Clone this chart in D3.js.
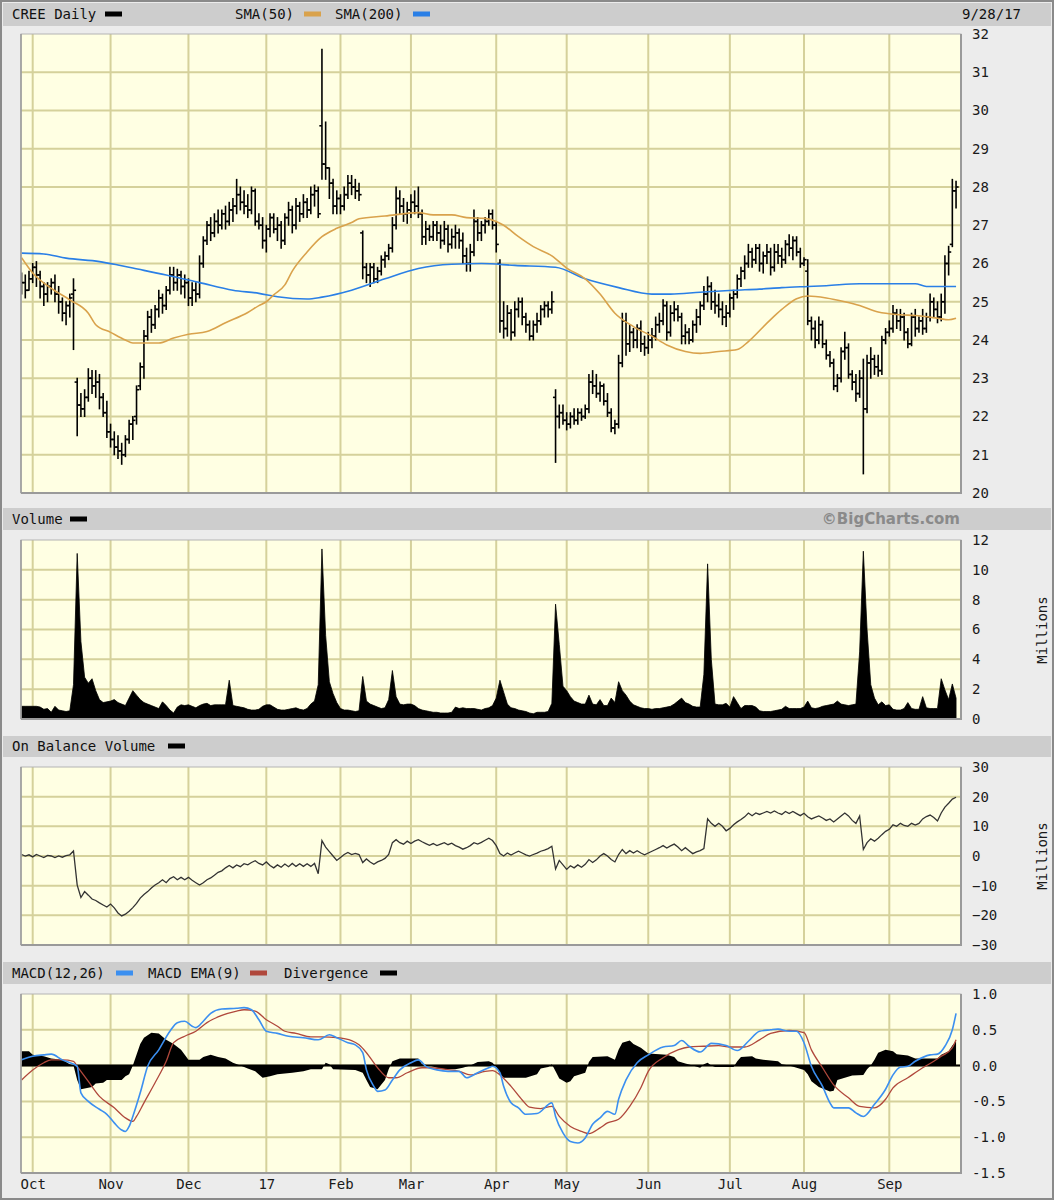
<!DOCTYPE html>
<html><head><meta charset="utf-8">
<script src="https://cdn.jsdelivr.net/npm/d3@7/dist/d3.min.js"></script>
<style>body{margin:0;background:#ececec}svg{display:block}</style>
</head><body><svg id="c" width="1054" height="1200"></svg>
<script>
// ---------- DATA ----------
const monthLabels = ["Oct","Nov","Dec","17","Feb","Mar","Apr","May","Jun","Jul","Aug","Sep"];
const monthStart  = [0,21,42,63,83,102,125,144,166,188,208,231]; // trading-day index of 1st day of month
const firstIndex = -3; // first bar = 9/28/16
const priceTicks = [20,21,22,23,24,25,26,27,28,29,30,31,32];
const volTicks = [0,2,4,6,8,10,12];
const obvTicks = [-30,-20,-10,0,10,20,30];
const macdTicks = [-1.5,-1.0,-0.5,0,0.5,1.0];

const opens = [
25.4,25.5,25.3,25.6,25.9,25.7,25.4,25.2,25.4,25.5,
25.2,25.0,24.7,24.9,25.2,22.9,22.3,22.2,22.5,23.0,
22.8,22.9,22.5,22.1,21.6,21.4,21.2,21.1,21.0,21.4,
21.8,22.0,22.8,23.3,24.1,24.6,24.4,24.8,25.1,24.9,
25.3,25.7,25.5,25.7,25.4,25.5,25.1,25.3,25.2,26.0,
26.6,27.0,26.8,27.1,27.0,27.3,27.1,27.4,27.5,27.8,
27.6,27.5,27.4,27.9,27.1,27.0,26.6,26.9,27.2,26.9,
27.0,26.6,27.2,27.4,27.0,27.5,27.3,27.6,27.4,27.8,
27.9,29.6,28.6,28.5,28.1,27.5,27.7,27.5,27.8,28.1,
28.0,27.9,26.8,25.9,25.7,25.9,25.6,25.8,26.1,26.2,
26.4,27.0,27.7,27.5,27.3,27.4,27.6,27.5,27.3,26.7,
26.9,26.7,27.0,26.8,26.6,26.9,26.5,26.7,26.8,26.6,
26.2,26.0,26.3,27.1,26.8,27.0,27.1,27.3,27.0,26.0,
24.5,24.3,24.7,24.2,24.8,25.0,24.6,24.4,24.1,24.4,
24.5,24.8,24.9,24.8,22.5,22.0,22.1,21.9,21.8,22.0,
21.9,22.1,22.0,22.2,22.9,22.8,22.6,22.8,22.4,22.1,
21.7,21.8,23.4,24.5,23.9,24.2,24.0,24.3,23.9,23.8,
24.0,24.1,24.4,24.5,24.9,24.2,24.7,24.8,24.6,24.1,
24.2,24.0,24.4,24.6,24.9,25.2,25.4,25.0,24.9,24.8,
24.6,24.7,25.1,25.2,25.6,25.8,26.0,26.3,26.1,26.4,
26.0,26.2,26.3,25.9,26.3,26.2,26.1,26.5,26.4,26.6,
26.3,26.0,25.8,24.5,24.3,24.0,24.4,23.9,23.6,23.4,
22.8,23.0,23.7,23.8,23.1,22.9,22.6,23.0,22.2,23.4,
23.5,23.3,23.2,24.0,24.2,24.3,24.7,24.5,24.6,24.2,
23.9,24.6,24.3,24.5,24.3,24.6,25.0,24.8,24.6,25.0,
26.0,26.5,27.9];
const highs = [
25.75,25.7,25.8,26.0,26.05,25.8,25.5,25.5,25.6,25.7,
25.4,25.1,25.0,25.2,25.6,23.0,22.6,22.7,23.25,23.2,
23.2,23.1,22.6,22.4,21.8,21.6,21.5,21.3,21.5,21.9,
22.0,22.8,23.4,24.25,24.75,24.8,24.9,25.3,25.2,25.4,
25.9,25.9,25.85,25.8,25.7,25.6,25.5,25.5,26.2,26.7,
27.1,27.2,27.3,27.4,27.4,27.5,27.6,27.7,28.2,28.0,
27.9,27.8,28.0,27.95,27.3,27.2,27.0,27.3,27.3,27.2,
27.1,27.3,27.6,27.5,27.7,27.6,27.8,27.7,28.0,28.05,
28.0,31.6,29.7,28.5,28.2,27.9,27.8,28.0,28.3,28.3,
28.2,28.1,26.85,26.0,26.0,26.0,25.9,26.2,26.3,26.5,
27.2,28.0,27.9,27.7,27.6,27.8,27.9,28.0,27.4,27.1,
27.0,27.1,27.1,27.0,27.1,27.0,26.9,27.0,26.9,26.8,
26.4,26.5,27.4,27.2,27.1,27.2,27.4,27.4,27.1,26.1,
25.0,24.9,24.8,25.0,25.1,25.1,24.7,24.5,24.5,24.7,
24.9,25.0,25.0,25.26,22.7,22.3,22.3,22.1,22.1,22.2,
22.2,22.2,22.3,23.1,23.2,23.1,22.9,22.85,22.6,22.2,
21.9,23.6,24.7,24.7,24.4,24.3,24.4,24.5,24.1,24.2,
24.3,24.6,24.7,25.05,25.0,24.9,25.0,24.9,24.7,24.4,
24.3,24.5,24.8,25.0,25.4,25.65,25.5,25.3,25.2,25.0,
24.9,25.2,25.3,25.7,25.9,26.2,26.5,26.4,26.5,26.5,
26.3,26.5,26.4,26.5,26.5,26.4,26.6,26.75,26.7,26.7,
26.4,26.15,26.1,24.6,24.5,24.6,24.5,24.0,23.7,23.5,
23.1,23.8,24.2,23.9,23.2,23.1,23.2,23.5,23.6,23.8,
23.6,23.6,24.1,24.3,24.5,24.9,24.8,24.8,24.7,24.3,
24.7,24.8,24.6,24.8,24.7,25.2,25.1,25.0,25.2,26.2,
26.45,28.2,28.15];
const lows = [
25.2,25.1,25.3,25.5,25.4,25.1,24.9,25.0,25.2,25.0,
24.7,24.5,24.4,24.6,23.75,21.5,22.0,22.0,22.4,22.6,
22.5,22.2,22.0,21.45,21.2,21.0,20.9,20.75,20.95,21.3,
21.4,21.8,22.7,23.0,24.0,24.2,24.3,24.6,24.7,24.8,
25.2,25.3,25.3,25.2,25.1,24.9,24.9,25.0,25.1,25.9,
26.5,26.6,26.7,26.8,26.9,26.9,27.0,27.1,27.3,27.4,
27.3,27.2,27.3,27.0,26.9,26.4,26.3,26.7,26.8,26.6,
26.4,26.5,27.0,26.8,26.9,27.1,27.2,27.2,27.3,27.5,
27.2,28.2,28.2,27.7,27.3,27.3,27.3,27.4,27.7,27.8,
27.7,27.65,25.6,25.5,25.4,25.5,25.5,25.7,25.9,26.1,
26.3,26.9,27.3,27.1,27.05,27.2,27.3,27.2,26.5,26.5,
26.6,26.6,26.6,26.4,26.5,26.3,26.4,26.4,26.4,26.0,
25.8,25.8,26.2,26.6,26.6,26.8,27.0,26.9,26.3,24.2,
24.05,24.1,24.0,24.1,24.6,24.4,24.2,24.0,24.0,24.2,
24.4,24.6,24.6,24.7,20.8,21.7,21.8,21.65,21.7,21.8,
21.8,21.9,21.95,22.1,22.6,22.5,22.4,22.3,22.0,21.6,
21.55,21.7,23.3,23.6,23.7,23.8,23.8,23.7,23.6,23.65,
23.8,24.0,24.2,24.4,24.0,24.1,24.5,24.5,23.9,23.9,
23.9,23.95,24.2,24.4,24.8,25.0,24.8,24.7,24.6,24.4,
24.35,24.6,24.8,25.1,25.4,25.6,25.9,25.9,26.0,25.8,
25.75,26.0,25.7,25.8,26.0,25.9,26.0,26.2,26.1,26.2,
25.9,25.95,24.4,24.0,23.8,23.9,23.8,23.5,23.3,22.7,
22.65,22.9,23.5,23.0,22.7,22.4,22.5,20.5,22.1,23.0,
23.1,23.05,23.1,23.9,24.1,24.2,24.3,24.25,24.0,23.8,
23.85,24.1,24.2,24.15,24.2,24.5,24.6,24.45,24.5,24.7,
25.7,26.44,27.45];
const closes = [
25.5,25.3,25.6,25.9,25.7,25.4,25.2,25.4,25.5,25.2,
25.0,24.7,24.9,25.1,25.3,22.3,22.2,22.5,23.0,22.8,
22.9,22.5,22.1,21.6,21.4,21.2,21.1,21.0,21.4,21.8,
21.9,22.7,23.3,24.1,24.6,24.4,24.8,25.1,24.9,25.3,
25.7,25.5,25.7,25.4,25.5,25.1,25.3,25.2,26.0,26.6,
27.0,26.8,27.1,27.0,27.3,27.1,27.4,27.5,27.8,27.6,
27.5,27.4,27.9,27.1,27.0,26.6,26.9,27.2,26.9,27.0,
26.6,27.2,27.4,27.0,27.5,27.3,27.6,27.4,27.8,27.9,
27.3,28.6,28.5,28.1,27.5,27.7,27.5,27.8,28.1,28.0,
27.9,27.8,25.9,25.7,25.9,25.6,25.8,26.1,26.2,26.4,
27.0,27.7,27.5,27.3,27.4,27.6,27.5,27.3,26.7,26.9,
26.7,27.0,26.8,26.6,26.9,26.5,26.7,26.8,26.6,26.2,
26.0,26.3,27.1,26.8,27.0,27.1,27.3,27.0,26.5,24.5,
24.3,24.7,24.2,24.8,25.0,24.6,24.4,24.1,24.4,24.5,
24.8,24.9,24.8,25.0,22.0,22.1,21.9,21.8,22.0,21.9,
22.1,22.0,22.2,22.9,22.8,22.6,22.8,22.4,22.1,21.7,
21.8,23.4,24.5,23.9,24.2,24.0,24.3,23.9,23.8,24.0,
24.1,24.4,24.5,24.9,24.2,24.7,24.8,24.6,24.1,24.2,
24.0,24.4,24.6,24.9,25.2,25.4,25.0,24.9,24.8,24.6,
24.7,25.1,25.2,25.6,25.8,26.0,26.3,26.1,26.4,26.0,
26.2,26.3,25.9,26.3,26.2,26.1,26.5,26.4,26.6,26.3,
26.0,26.1,24.5,24.3,24.0,24.4,23.9,23.6,23.4,22.8,
23.0,23.7,23.8,23.1,22.9,22.6,23.0,22.2,23.4,23.5,
23.3,23.2,24.0,24.2,24.3,24.7,24.5,24.6,24.2,23.9,
24.6,24.3,24.5,24.3,24.6,25.0,24.8,24.6,25.0,26.0,
26.3,27.9,28.0];

// volume, millions
const volumes = [
0.85,0.85,0.85,0.85,0.85,0.8,0.65,0.7,0.45,0.85,
0.6,0.55,0.5,0.55,2.3,11.1,5.2,2.8,2.4,2.7,
1.9,1.3,1.1,1.15,1.2,1.3,1.1,1.0,0.9,1.4,
1.9,1.6,1.3,1.1,1.0,0.9,0.8,0.7,1.15,0.9,
0.6,0.4,0.8,0.95,0.9,0.95,0.85,0.75,0.9,1.0,
1.05,0.9,0.95,0.95,0.95,0.95,2.6,0.9,0.85,0.8,
0.75,0.65,0.6,0.6,0.65,0.85,0.95,0.95,0.8,0.65,
0.6,0.6,0.65,0.7,0.75,0.65,0.6,0.7,1.0,1.2,
2.3,11.4,5.6,2.5,1.7,1.1,0.7,0.6,0.6,0.55,
0.5,0.55,2.85,1.2,1.0,0.9,0.8,0.7,0.75,1.3,
3.25,1.5,1.0,0.95,1.0,1.0,0.9,0.7,0.6,0.55,
0.5,0.45,0.45,0.4,0.4,0.4,0.45,0.8,0.7,0.75,
0.7,0.7,0.7,0.65,0.6,0.7,0.75,0.9,1.4,2.6,
1.8,1.0,0.75,0.7,0.6,0.55,0.5,0.4,0.35,0.45,
0.45,0.45,0.5,1.05,7.7,5.0,2.2,1.9,1.5,1.2,
1.1,1.0,1.0,1.6,1.0,0.95,1.3,0.9,0.9,1.4,
1.1,2.5,1.9,1.6,1.2,0.95,0.85,0.75,0.7,0.7,
0.65,0.7,0.7,0.75,0.8,0.85,1.0,1.2,1.4,1.1,
1.0,0.85,0.8,0.8,3.0,10.4,4.0,1.0,0.95,0.95,
1.05,0.8,1.5,1.1,0.7,0.9,0.9,0.9,0.8,0.55,
0.5,0.5,0.5,0.55,0.6,0.65,0.85,0.7,0.7,0.7,
0.7,0.8,1.2,0.75,0.7,0.75,0.85,0.9,0.95,1.0,
1.2,1.0,0.95,0.9,0.95,1.0,4.5,11.25,6.0,2.3,
1.4,0.95,1.15,0.9,0.95,0.65,0.6,0.6,0.7,1.1,
0.7,0.65,0.65,1.5,0.75,0.7,0.7,0.7,2.7,1.95,
1.3,2.35,1.4];

// on balance volume, millions
const obv = [
0.5,0.0,0.4,-0.3,0.5,0.0,-0.5,0.2,0.0,-0.5,
0.0,-0.4,0.1,0.4,1.7,-9.8,-14.0,-12.0,-13.2,-14.5,
-15.0,-15.8,-16.5,-17.2,-16.2,-17.5,-19.2,-20.2,-19.6,-18.6,
-17.4,-16.0,-14.2,-13.0,-12.0,-10.8,-9.8,-9.0,-8.0,-9.0,
-7.6,-7.0,-8.0,-7.2,-8.0,-7.2,-8.2,-9.0,-9.8,-9.0,
-8.0,-7.4,-6.5,-5.5,-5.0,-4.0,-3.2,-4.0,-3.0,-3.6,
-2.6,-3.0,-2.2,-1.6,-2.5,-3.0,-2.0,-3.2,-4.0,-3.0,
-3.8,-2.7,-3.6,-2.5,-3.5,-2.6,-3.5,-2.6,-3.5,-2.5,
-6.0,5.2,3.0,1.5,0.0,-1.5,-0.5,0.5,1.2,0.5,
0.9,0.5,-2.2,-1.0,-2.0,-2.8,-2.0,-1.5,-0.8,0.5,
4.5,5.5,4.5,4.0,5.0,4.2,5.0,5.5,4.8,4.2,
3.6,4.2,3.5,4.0,4.5,3.8,4.3,3.5,3.0,2.3,
2.8,3.5,4.5,4.0,4.6,5.3,6.0,5.2,3.5,0.8,
0.0,1.0,0.3,1.0,1.6,1.0,0.4,0.0,0.5,1.0,
1.6,2.0,2.5,3.3,-4.4,-1.5,-3.0,-4.5,-3.3,-4.0,
-3.0,-3.8,-2.8,-1.2,-2.2,-1.3,0.0,0.8,0.0,-1.2,
-2.0,0.5,2.2,0.8,1.8,1.0,1.8,1.0,0.4,1.0,
1.6,2.2,2.8,3.5,2.7,3.4,4.0,3.0,1.8,2.8,
1.8,0.8,1.4,1.8,2.5,12.5,11.0,10.0,11.0,10.0,
8.5,9.3,10.5,11.5,12.3,13.2,14.5,13.6,14.5,14.0,
14.5,15.0,14.5,15.2,14.5,14.0,15.0,14.3,15.0,14.3,
13.6,14.4,13.2,12.5,13.0,13.5,12.8,12.0,12.5,11.5,
12.5,13.5,14.5,13.5,12.0,11.0,13.5,2.2,4.5,5.8,
5.0,6.0,7.2,8.3,9.0,10.5,10.0,11.0,10.3,10.0,
11.0,10.4,11.0,12.5,13.3,13.8,13.0,11.8,14.5,16.5,
17.8,19.2,19.8];

// moving averages: [day index, value]
const sma50 = [[-3,26.15],[0,25.75],[5,25.35],[10,25.05],[15,24.7],[17,24.4],[21,24.2],[25,24.0],[27,23.92],[34,23.92],[38,24.05],[42,24.15],[47,24.22],[52,24.45],[58,24.72],[61,24.9],[63,25.0],[65,25.18],[68,25.44],[70,25.8],[74,26.3],[78,26.7],[82,26.92],[86,27.07],[88,27.17],[95,27.24],[104,27.33],[108,27.27],[113,27.27],[117,27.2],[122,27.18],[125,27.1],[127,27.0],[131,26.7],[135,26.44],[140,26.2],[144,25.88],[149,25.6],[153,25.2],[157,24.7],[162,24.35],[167,24.1],[171,23.87],[176,23.7],[180,23.65],[185,23.7],[190,23.75],[193,23.96],[198,24.44],[202,24.8],[206,25.08],[209,25.15],[214,25.1],[219,25.0],[223,24.9],[228,24.73],[234,24.66],[238,24.64],[244,24.57],[247,24.53],[249,24.57]];
const sma200 = [[-3,26.27],[3,26.25],[9,26.14],[18,26.05],[23,25.96],[27,25.88],[36,25.7],[45,25.5],[54,25.3],[61,25.22],[66,25.13],[74,25.07],[78,25.12],[86,25.3],[95,25.6],[104,25.87],[113,25.98],[121,26.0],[130,25.95],[141,25.9],[149,25.6],[158,25.37],[167,25.2],[172,25.2],[180,25.25],[189,25.3],[196,25.33],[202,25.37],[209,25.4],[214,25.42],[223,25.47],[238,25.47],[241,25.4],[249,25.4]];

// MACD(12,26), its EMA(9) and the divergence: [day index, value]
const macdLine = [[-3,0.08],[0,0.13],[3,0.15],[5,0.16],[8,0.08],[10,0.04],[12,-0.01],[13,-0.38],[15,-0.5],[18,-0.61],[20,-0.68],[22,-0.8],[24,-0.9],[25,-0.92],[26,-0.85],[27,-0.71],[29,-0.38],[31,-0.01],[34,0.22],[37,0.48],[39,0.6],[41,0.62],[43,0.55],[44,0.53],[46,0.62],[48,0.73],[51,0.79],[55,0.8],[57,0.81],[59,0.78],[61,0.64],[63,0.48],[66,0.45],[69,0.41],[73,0.39],[77,0.36],[80,0.43],[82,0.39],[85,0.32],[87,0.29],[89,0.18],[90,-0.06],[92,-0.29],[93,-0.36],[95,-0.34],[97,-0.2],[99,-0.06],[102,0.04],[104,0.08],[106,-0.01],[109,-0.06],[112,-0.08],[115,-0.08],[117,-0.17],[120,-0.1],[123,-0.03],[124,-0.01],[126,-0.1],[127,-0.29],[129,-0.52],[131,-0.59],[133,-0.68],[136,-0.67],[140,-0.52],[141,-0.71],[143,-0.94],[145,-1.06],[147,-1.08],[149,-1.01],[151,-0.82],[153,-0.73],[155,-0.64],[157,-0.68],[158,-0.47],[160,-0.2],[163,0.04],[166,0.15],[170,0.26],[173,0.28],[175,0.35],[177,0.27],[180,0.19],[183,0.31],[187,0.28],[190,0.21],[193,0.34],[196,0.48],[199,0.5],[201,0.51],[204,0.48],[206,0.48],[208,0.32],[210,-0.01],[213,-0.29],[215,-0.52],[216,-0.59],[220,-0.59],[222,-0.66],[224,-0.71],[227,-0.54],[230,-0.33],[232,-0.13],[234,-0.02],[236,-0.01],[238,0.06],[242,0.15],[244,0.16],[246,0.27],[248,0.5],[249,0.73]];
const signalLine = [[-3,-0.2],[0,-0.06],[3,0.04],[5,0.08],[8,0.08],[11,0.06],[12,-0.01],[15,-0.22],[18,-0.43],[22,-0.59],[25,-0.73],[27,-0.78],[28,-0.71],[30,-0.52],[33,-0.24],[36,0.06],[38,0.32],[41,0.41],[44,0.48],[47,0.6],[51,0.7],[55,0.76],[57,0.78],[60,0.76],[63,0.64],[66,0.55],[68,0.48],[71,0.45],[75,0.4],[78,0.4],[82,0.39],[86,0.35],[88,0.29],[90,0.18],[93,-0.03],[96,-0.17],[98,-0.17],[101,-0.1],[105,-0.03],[107,-0.03],[111,-0.05],[115,-0.08],[118,-0.13],[122,-0.08],[124,-0.07],[126,-0.13],[129,-0.29],[132,-0.48],[134,-0.58],[137,-0.6],[140,-0.57],[142,-0.71],[145,-0.85],[148,-0.92],[150,-0.95],[153,-0.87],[155,-0.8],[158,-0.75],[161,-0.57],[164,-0.31],[166,-0.08],[170,0.11],[174,0.22],[177,0.26],[181,0.27],[185,0.28],[188,0.26],[192,0.26],[196,0.36],[199,0.45],[204,0.49],[208,0.46],[210,0.22],[213,-0.03],[216,-0.27],[220,-0.45],[223,-0.57],[227,-0.59],[230,-0.47],[232,-0.31],[236,-0.17],[240,-0.03],[243,0.06],[245,0.13],[248,0.25],[249,0.36]];
const divergence = [[-3,0.2],[-1,0.2],[0,0.15],[3,0.13],[5,0.1],[8,0.08],[10,0.02],[11,0],[12,-0.2],[13,-0.33],[16,-0.3],[17,-0.25],[19,-0.24],[20,-0.2],[24,-0.2],[25,-0.15],[26,-0.12],[27,0],[28,0.15],[29,0.3],[30,0.39],[32,0.46],[34,0.45],[36,0.36],[38,0.3],[40,0.22],[41,0.15],[42,0.08],[45,0.08],[46,0.12],[48,0.15],[50,0.12],[52,0.1],[54,0.04],[56,0],[58,-0.04],[60,-0.08],[62,-0.17],[64,-0.15],[66,-0.12],[70,-0.1],[73,-0.08],[75,-0.05],[78,-0.05],[79,0.04],[80,0.02],[81,-0.05],[87,-0.06],[89,-0.1],[90,-0.2],[91,-0.3],[93,-0.33],[95,-0.2],[96,-0.05],[97,0.06],[99,0.1],[104,0.1],[105,0.02],[107,0],[109,-0.03],[111,-0.05],[114,-0.05],[116,-0.03],[118,0],[120,0.05],[123,0.06],[124,0.04],[125,-0.02],[126,-0.12],[127,-0.17],[133,-0.17],[136,-0.12],[137,-0.04],[139,-0.02],[140,0.02],[141,-0.08],[142,-0.18],[144,-0.24],[145,-0.22],[146,-0.15],[149,-0.1],[150,0.05],[151,0.12],[155,0.13],[157,0.08],[158,0.22],[159,0.32],[161,0.35],[162,0.3],[164,0.25],[166,0.17],[171,0.15],[173,0.12],[174,0.06],[176,0.03],[178,0],[180,-0.03],[181,0.02],[182,0.04],[183,0],[184,-0.02],[189,-0.02],[190,0.06],[191,0.12],[194,0.13],[195,0.1],[197,0.08],[201,0.06],[202,0.02],[204,0],[206,-0.03],[208,-0.06],[209,-0.12],[210,-0.22],[212,-0.3],[215,-0.36],[216,-0.35],[217,-0.2],[219,-0.17],[221,-0.14],[224,-0.13],[225,-0.05],[226,0],[227,0.08],[228,0.18],[230,0.22],[232,0.2],[233,0.16],[236,0.14],[238,0.1],[244,0.1],[245,0.15],[247,0.2],[248,0.28],[249,0.34]];

// ---------- DRAWING ----------
const W = 1054, H = 1200, PL = 21, PR = 961;
const MONO = "'DejaVu Sans Mono','Liberation Mono',monospace";
const C = {bg:"#ececec", band:"#cdcdcd", plot:"#ffffe3", grid:"#d5d19b", frame:"#9a9a9a",
  sma50:"#d9a24c", sma200:"#2a7fe6", macd:"#3b8ff0", signal:"#b0483c"};
const svg = d3.select("#c");
svg.append("rect").attr("width", W).attr("height", H).attr("fill", C.bg);

const x = d3.scaleLinear().domain([monthStart[0], monthStart[11]]).range([32.7, 889.3]);
const dayX = k => x(k + firstIndex);

function header(y0, y1) {
  svg.append("rect").attr("x", 3).attr("y", y0).attr("width", W - 6).attr("height", y1 - y0).attr("fill", C.band);
}
function label(txt, xx, yy, opts = {}) {
  return svg.append("text").attr("x", xx).attr("y", yy).attr("dominant-baseline", "central")
    .attr("font-family", opts.family || MONO).attr("font-size", opts.size || 14)
    .attr("font-weight", opts.weight || "normal").attr("fill", opts.fill || "#111")
    .attr("text-anchor", opts.anchor || "start").text(txt);
}
function swatch(xx, yy, color) {
  svg.append("rect").attr("x", xx).attr("y", yy - 2.5).attr("width", 17).attr("height", 5).attr("fill", color);
}

let clipId = 0;
function panel(top, bottom, domain, ticks, fmt) {
  const y = d3.scaleLinear().domain(domain).range([bottom, top]);
  const g = svg.append("g");
  g.append("rect").attr("x", PL).attr("y", top).attr("width", PR - PL).attr("height", bottom - top).attr("fill", C.plot);
  g.selectAll("line.h").data(ticks.filter(t => t > domain[0] && t < domain[1])).join("line")
    .attr("x1", PL).attr("x2", PR).attr("y1", d => y(d)).attr("y2", d => y(d))
    .attr("stroke", C.grid).attr("stroke-width", 2);
  g.selectAll("line.v").data(monthStart).join("line")
    .attr("x1", d => x(d)).attr("x2", d => x(d)).attr("y1", top).attr("y2", bottom)
    .attr("stroke", C.grid).attr("stroke-width", 2);
  const id = "clip" + (clipId++);
  svg.append("clipPath").attr("id", id).append("rect").attr("x", PL).attr("y", top).attr("width", PR - PL).attr("height", bottom - top);
  const content = svg.append("g").attr("clip-path", `url(#${id})`);
  const frame = svg.append("g");
  frame.append("rect").attr("x", PL).attr("y", top).attr("width", PR - PL).attr("height", bottom - top)
    .attr("fill", "none").attr("stroke", "#b4b4b4").attr("stroke-width", 1);
  frame.append("path").attr("d", `M${PL},${bottom}H${PR}V${top}`).attr("fill", "none").attr("stroke", C.frame).attr("stroke-width", 2);
  frame.append("path").attr("d", `M${PL},${bottom}V${top}`).attr("fill", "none").attr("stroke", C.frame).attr("stroke-width", 1.5);
  const ax = svg.append("g").attr("transform", `translate(${PR},0)`)
    .call(d3.axisRight(y).tickValues(ticks).tickSize(0).tickPadding(11).tickFormat(fmt));
  ax.select(".domain").remove();
  ax.selectAll("text").attr("font-family", MONO).attr("font-size", 14).attr("fill", "#1a1a1a");
  return {y, content};
}

// headers
header(3, 26);
label("CREE Daily", 12, 14); swatch(105, 14, "#000");
label("SMA(50)", 235, 14); swatch(304, 14, C.sma50);
label("SMA(200)", 335, 14); swatch(413, 14, C.sma200);
label("9/28/17", 1021, 14, {anchor: "end"});

header(508, 530);
label("Volume", 12, 519); swatch(70, 519, "#000");
label("\u00A9BigCharts.com", 960, 519, {family: "'DejaVu Sans',Verdana,sans-serif", size: 15, weight: "bold", fill: "#8a8a8a", anchor: "end"});

header(736, 757);
label("On Balance Volume", 12, 746); swatch(168, 746, "#000");

header(962, 984);
label("MACD(12,26)", 12, 973); swatch(116, 973, C.macd);
label("MACD EMA(9)", 148, 973); swatch(250, 973, C.signal);
label("Divergence", 284, 973); swatch(380, 973, "#000");

// ---- price panel
const P = panel(34, 493, [20, 32], priceTicks, d3.format("d"));
const idx = d3.range(closes.length);
const bars = P.content.append("g").attr("stroke", "#000").attr("stroke-width", 1.6);
bars.selectAll("line.hl").data(idx).join("line")
  .attr("x1", dayX).attr("x2", dayX).attr("y1", k => P.y(highs[k]) - 0.5).attr("y2", k => P.y(lows[k]) + 0.5);
bars.selectAll("line.o").data(idx).join("line")
  .attr("x1", k => dayX(k) - 2.6).attr("x2", dayX).attr("y1", k => P.y(opens[k])).attr("y2", k => P.y(opens[k]));
bars.selectAll("line.c").data(idx).join("line")
  .attr("x1", dayX).attr("x2", k => dayX(k) + 2.6).attr("y1", k => P.y(closes[k])).attr("y2", k => P.y(closes[k]));
const maLine = d3.line().x(d => x(d[0])).y(d => P.y(d[1])).curve(d3.curveMonotoneX);
P.content.append("path").attr("d", maLine(sma200)).attr("fill", "none").attr("stroke", C.sma200).attr("stroke-width", 1.6);
P.content.append("path").attr("d", maLine(sma50)).attr("fill", "none").attr("stroke", C.sma50).attr("stroke-width", 1.6);

// ---- volume panel
const V = panel(540, 719, [0, 12], volTicks, d3.format("d"));
V.content.append("path")
  .attr("d", d3.area().x((d, k) => dayX(k)).y0(V.y(0)).y1(d => V.y(d))(volumes))
  .attr("fill", "#000").attr("stroke", "#000").attr("stroke-width", 0.8);
svg.append("text").attr("transform", "translate(1042,630) rotate(-90)").attr("text-anchor", "middle")
  .attr("dominant-baseline", "central").attr("font-family", MONO).attr("font-size", 14).attr("fill", "#1a1a1a").text("Millions");

// ---- OBV panel
const O = panel(767, 945, [-30, 30], obvTicks, d3.format("d"));
O.content.append("path").attr("d", d3.line().x((d, k) => dayX(k)).y(d => O.y(d))(obv))
  .attr("fill", "none").attr("stroke", "#333").attr("stroke-width", 1.3);
svg.append("text").attr("transform", "translate(1042,856) rotate(-90)").attr("text-anchor", "middle")
  .attr("dominant-baseline", "central").attr("font-family", MONO).attr("font-size", 14).attr("fill", "#1a1a1a").text("Millions");

// ---- MACD panel
const M = panel(994, 1173, [-1.5, 1.0], macdTicks, d => d.toFixed(1));
M.content.append("path")
  .attr("d", d3.area().x(d => x(d[0])).y0(M.y(0)).y1(d => M.y(d[1]))(divergence))
  .attr("fill", "#000");
M.content.append("line").attr("x1", PL).attr("x2", PR).attr("y1", M.y(0)).attr("y2", M.y(0)).attr("stroke", "#000").attr("stroke-width", 2);
const mLine = d3.line().x(d => x(d[0])).y(d => M.y(d[1])).curve(d3.curveMonotoneX);
M.content.append("path").attr("d", mLine(signalLine)).attr("fill", "none").attr("stroke", C.signal).attr("stroke-width", 1.3);
M.content.append("path").attr("d", mLine(macdLine)).attr("fill", "none").attr("stroke", C.macd).attr("stroke-width", 1.6);

// month axis
const xa = svg.append("g").attr("transform", "translate(0,1174)")
  .call(d3.axisBottom(x).tickValues(monthStart).tickSize(0).tickPadding(5).tickFormat((d, i) => monthLabels[i]));
xa.select(".domain").remove();
xa.selectAll("text").attr("font-family", MONO).attr("font-size", 14).attr("fill", "#1a1a1a");

// outer border
svg.append("rect").attr("x", 1).attr("y", 1).attr("width", W - 2).attr("height", H - 2)
  .attr("fill", "none").attr("stroke", "#8a8a8a").attr("stroke-width", 2);
</script>
</body></html>
